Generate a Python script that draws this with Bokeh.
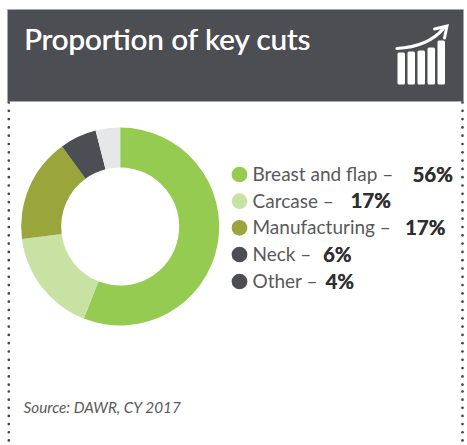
from bokeh.core.properties import value
from bokeh.embed import file_html
from bokeh.models import ColumnDataSource, Range1d
from bokeh.plotting import figure
from bokeh.resources import INLINE
import math

title_text = "Proportion of key cuts"
source_text = "Source: DAWR, CY 2017"
categories = ["Breast and flap", "Carcase", "Manufacturing", "Neck", "Other"]
shares = [56, 17, 17, 6, 4]
wedge_colors = ["#95cb50", "#c8e2a4", "#9aa53c", "#4d4e53", "#e6e7e8"]
swatch_colors = ["#95cb50", "#c8e2a4", "#9aa53c", "#4d4e53", "#4d4e53"]
bar_tops = [52, 51, 50, 47, 40]
bar_lefts = [397, 407, 417, 427, 437]

DARK = "#4d4e53"
FONT = "Lato"

p = figure(width=467, height=445, output_backend="svg", toolbar_location=None,
           x_range=Range1d(0, 467), y_range=Range1d(445, 0),
           min_border=0, outline_line_color=None)
p.axis.visible = False
p.grid.visible = False
p.background_fill_color = "white"
p.border_fill_color = "white"

# Header band
p.quad(left=[7], right=[463], top=[9], bottom=[101], fill_color=DARK, line_color="#a8a9ad", line_width=0.7)
# Drawn twice with a slight offset to give the title a medium weight
for dx in (0, 0.4):
    p.text(x=[23.5 + dx], y=[37.8], text=[title_text], text_font=value(FONT), text_font_size="29.5px",
           text_color="white", text_baseline="middle")

# Icon: rising bars with an arrow above them
for left, top in zip(bar_lefts, bar_tops):
    p.quad(left=[left + 1.5], right=[left + 6], top=[top + 1.5], bottom=[82.5],
           fill_color="white", line_color="white", line_width=3, line_join="round")
p.bezier(x0=[396.5], y0=[48], x1=[443], y1=[28], cx0=[415], cy0=[47], cx1=[432], cy1=[41],
         line_color="white", line_width=3.2, line_cap="round")
p.multi_line(xs=[[434, 446.5, 444]], ys=[[28.5, 25.5, 37.5]], line_color="white", line_width=3,
             line_cap="round", line_join="miter")

# Dotted side rules; the dash pattern restarts near y=385, where two dots nearly coincide
dots_y = [102 + 8.3 * i for i in range(35)] + [391 + 8.15 * i for i in range(7)]
p.scatter(x=[8.3] * len(dots_y), y=dots_y, size=2.7, color="#45464a", line_color=None)
p.scatter(x=[462] * len(dots_y), y=dots_y, size=2.7, color="#45464a", line_color=None)

# Donut, clockwise from twelve o'clock
total = sum(shares)
starts, ends = [], []
running = 0
for share in shares:
    starts.append(math.pi / 2 - 2 * math.pi * running / total)
    running += share
    ends.append(math.pi / 2 - 2 * math.pi * running / total)
src = ColumnDataSource(dict(start=starts, end=ends, color=wedge_colors))
p.annular_wedge(x=119.7, y=226, inner_radius=59, outer_radius=99, start_angle="start", end_angle="end",
                direction="clock", fill_color="color", line_color=None, source=src)

# Legend
legend_y = [174, 200.7, 227.3, 254, 281]
bold_x = [412, 350, 404.5, 322.5, 325]
for y, name, share, swatch, bx in zip(legend_y, categories, shares, swatch_colors, bold_x):
    p.scatter(x=[239], y=[y], size=15.7, color=swatch, line_color=None)
    p.text(x=[252], y=[y - 1], text=[f"{name} \u2013"], text_font=value(FONT), text_font_size="19px",
           text_color="#58595b", text_baseline="middle")
    for dx in (0, 0.35):
        p.text(x=[bx + dx], y=[y - 1], text=[f"{share}%"], text_font=value(FONT), text_font_size="20.3px",
               text_font_style="bold", text_color="#2f2f31", text_baseline="middle")

p.text(x=[23], y=[406.5], text=[source_text], text_font=value(FONT), text_font_size="15.3px",
       text_font_style="italic", text_color="#58595b", text_baseline="middle")

open("out.html", "w").write(file_html(p, INLINE))
